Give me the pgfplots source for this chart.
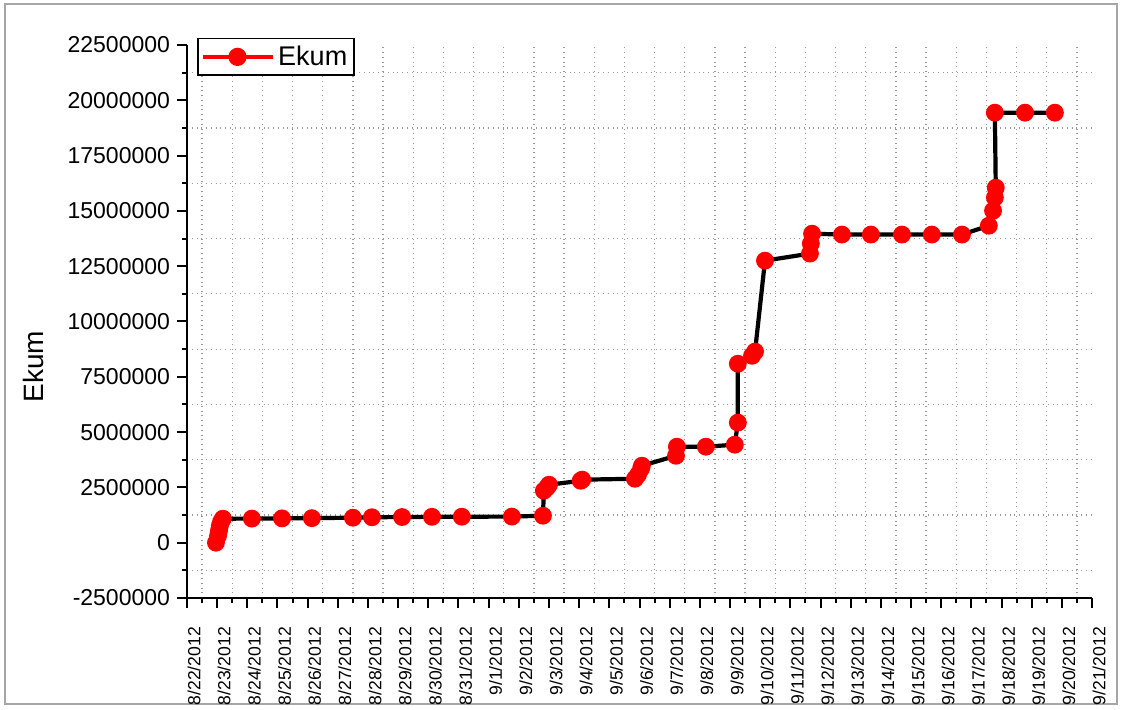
\documentclass[border=0pt]{standalone}
\usepackage{fontspec}
\setmainfont{Liberation Sans}
\usepackage{pgfplots}
\pgfplotsset{compat=1.18}

\pgfplotstableread{
day ekum
0.96 0
1.03 316000
1.06 542000
1.09 768000
1.13 949000
1.19 1085000
2.15 1090000
3.15 1100000
4.14 1110000
5.50 1130000
6.13 1150000
7.13 1160000
8.12 1170000
9.11 1175000
10.77 1180000
11.80 1220000
11.83 2350000
11.93 2490000
12.00 2620000
13.05 2800000
13.10 2850000
14.85 2890000
14.95 3070000
15.05 3345000
15.08 3480000
16.21 3930000
16.24 4340000
17.20 4340000
18.16 4430000
18.26 5430000
18.26 8090000
18.73 8450000
18.83 8640000
19.16 12750000
20.65 13070000
20.68 13520000
20.72 13970000
21.71 13930000
22.67 13930000
23.70 13930000
24.69 13930000
25.69 13930000
26.58 14330000
26.72 15010000
26.78 15600000
26.81 16050000
26.78 19440000
27.78 19440000
28.77 19440000
}\ekumdata

\begin{document}
\begin{tikzpicture}
  % whole picture is 1123x710 px, 1 px = 0.5bp; axis box starts at px (187,598)
  \useasboundingbox (-93.5bp,-56bp) rectangle (468bp,299bp);
  \draw[gray!70, line width=1bp] (-91bp,-53bp) rectangle (465bp,297bp);
  \begin{axis}[
    at={(0,0)}, anchor=south west,
    scale only axis,
    width=452.5bp, height=276.5bp,
    xmin=0, xmax=30,
    ymin=-2500000, ymax=22500000,
    scaled y ticks=false,
    axis x line*=bottom, axis y line*=left,
    axis line style={line width=1.2bp, -},
    tick align=outside,
    major tick length=5bp, minor tick length=2.5bp,
    every tick/.style={black, line width=1bp},
    minor x tick num=1, minor y tick num=1,
    xtick={0,...,30},
    xticklabels={8/22/2012,8/23/2012,8/24/2012,8/25/2012,8/26/2012,8/27/2012,
      8/28/2012,8/29/2012,8/30/2012,8/31/2012,9/1/2012,9/2/2012,9/3/2012,
      9/4/2012,9/5/2012,9/6/2012,9/7/2012,9/8/2012,9/9/2012,9/10/2012,
      9/11/2012,9/12/2012,9/13/2012,9/14/2012,9/15/2012,9/16/2012,9/17/2012,
      9/18/2012,9/19/2012,9/20/2012,9/21/2012},
    xticklabel shift=6bp,
    xticklabel style={xshift=3.5bp, rotate=90, anchor=east, font=\fontsize{8.8bp}{9bp}\selectfont},
    ytick={-2500000,0,2500000,5000000,7500000,10000000,12500000,15000000,17500000,20000000,22500000},
    yticklabels={-2500000,0,2500000,5000000,7500000,10000000,12500000,15000000,17500000,20000000,22500000},
    yticklabel style={font=\fontsize{11.5bp}{13bp}\selectfont},
    ylabel={Ekum},
    ylabel style={at={(axis description cs:-0.170,0.418)}, anchor=center, font=\fontsize{14bp}{16bp}\selectfont},
    grid=minor,
    minor grid style={gray!80, dotted, line width=0.6bp},
    legend style={at={(axis description cs:0.011,1.013)}, anchor=north west,
      draw=black, line width=0.8bp, font=\fontsize{13.5bp}{15bp}\selectfont,
      inner sep=1.5bp, row sep=0pt},
    legend cell align=left,
    legend image code/.code={
      \draw[red, line width=1.75bp] (0bp,0bp) -- (35bp,0bp);
      \fill[red] (17.5bp,0bp) circle (3.5bp);
    },
  ]
    \addplot[black, line width=2.1bp, mark=*, mark size=3.4bp,
      mark options={draw=red, fill=red}] table[x=day, y=ekum] {\ekumdata};
    \addlegendentry{Ekum}
  \end{axis}
\end{tikzpicture}
\end{document}
